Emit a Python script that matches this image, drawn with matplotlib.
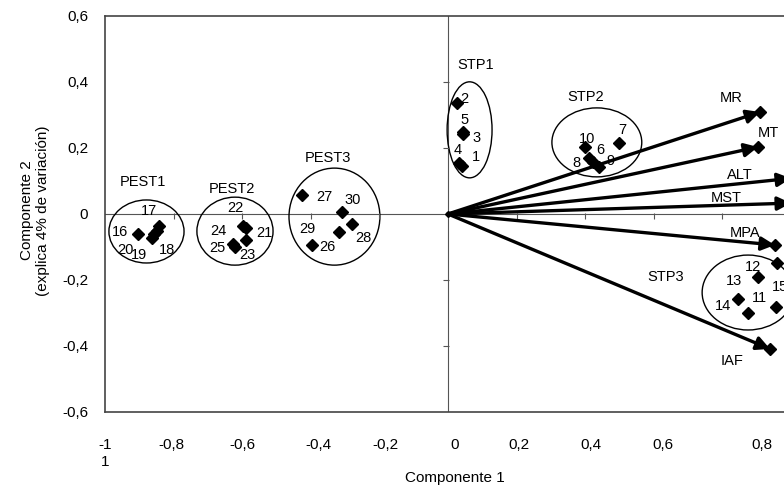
import numpy as np
import matplotlib
matplotlib.use('Agg')
import matplotlib.pyplot as plt
from matplotlib.patches import Ellipse

plt.rcParams['font.family'] = ['Liberation Sans', 'DejaVu Sans']

# puntos (muestras)
ids = [16, 17, 18, 19, 20, 21, 22, 23, 24, 25, 26, 27, 28, 29, 30,
       1, 2, 3, 4, 5, 6, 7, 8, 9, 10, 11, 12, 13, 14, 15]
comp1 = [-0.905, -0.843, -0.848, -0.863, -0.857,
         -0.589, -0.598, -0.589, -0.627, -0.621,
         -0.318, -0.426, -0.280, -0.397, -0.309,
         0.041, 0.025, 0.045, 0.032, 0.043,
         0.424, 0.498, 0.412, 0.441, 0.399,
         0.874, 0.905, 0.958, 0.846, 0.955]
comp2 = [-0.061, -0.036, -0.052, -0.073, -0.061,
         -0.042, -0.036, -0.079, -0.091, -0.100,
         -0.055, 0.058, -0.030, -0.094, 0.006,
         0.145, 0.337, 0.242, 0.155, 0.249,
         0.158, 0.216, 0.169, 0.142, 0.204,
         -0.301, -0.190, -0.149, -0.258, -0.281]

# variables (vectores)
var_names = ['MR', 'MT', 'ALT', 'MST', 'MPA', 'IAF']
var_c1 = [0.910, 0.904, 1.0, 1.0, 0.953, 0.939]
var_c2 = [0.309, 0.203, 0.108, 0.033, -0.094, -0.409]

# grupos
groups = ['PEST1', 'PEST2', 'PEST3', 'STP1', 'STP2', 'STP3']
grp_c1 = [-0.879, -0.621, -0.331, 0.063, 0.434, 0.875]
grp_c2 = [-0.053, -0.052, -0.008, 0.255, 0.217, -0.238]
grp_w = [0.219, 0.222, 0.265, 0.131, 0.262, 0.268]
grp_h = [0.191, 0.206, 0.294, 0.291, 0.209, 0.227]

# etiquetas de los ejes
yticks = [-0.6, -0.4, -0.2, 0, 0.2, 0.4, 0.6]
ytick_labels = ['-0,6', '-0,4', '-0,2', '0', '0,2', '0,4', '0,6']
xtick_pos = [-1.0, -0.805, -0.598, -0.379, -0.181, 0.020, 0.207, 0.417, 0.627, 0.915]
xtick_labels = ['-1\n1', '-0,8', '-0,6', '-0,4', '-0,2', '0', '0,2', '0,4', '0,6', '0,8']
zero_ticks_x = [-0.8, -0.6, -0.4, -0.2, 0.2, 0.4, 0.6, 0.8]
zero_ticks_y = [-0.4, -0.2, 0.2, 0.4]

# desplazamiento de las etiquetas (pixeles)
lbl_off = [(-18, 2), (-10, 15), (10, -19), (-13, -17), (-29, -16),
           (18, -5), (-7, 18), (1, -15), (-15, 13), (-18, -1),
           (-12, -15), (23, -2), (11, -14), (-4, 16), (11, 12),
           (14, 9), (8, 4), (13, -4), (-1, 13), (2, 12),
           (7, 12), (4, 13), (-13, -5), (11, 6), (2, 8),
           (12, 15), (-5, 10), (-43, -18), (-15, -7), (4, 20)]
var_lbl_pos = [(0.827, 0.351), (0.933, 0.245), (0.851, 0.118),
               (0.812, 0.048), (0.866, -0.058), (0.828, -0.445)]
grp_lbl_pos = [(-0.889, 0.097), (-0.630, 0.076), (-0.350, 0.170),
               (0.081, 0.452), (0.401, 0.355), (0.635, -0.190)]

fig = plt.figure(figsize=(7.84, 4.95), dpi=100)
ax = fig.add_axes([0.1339, 0.1677, 0.875, 0.8])
ax.set_xlim(-1, 1)
ax.set_ylim(-0.6, 0.6)

for s in ax.spines.values():
    s.set_color('#444444')
    s.set_linewidth(1.2)

ax.set_yticks(yticks)
ax.set_yticklabels(ytick_labels)
ax.set_xticks(xtick_pos)
ax.set_xticklabels(xtick_labels)
ax.tick_params(axis='y', length=0, pad=12, labelsize=11)
ax.tick_params(axis='x', length=0, pad=19, labelsize=11)

# ejes en cero
ax.axhline(0, color='#555555', lw=0.8, zorder=1)
ax.axvline(0, color='#555555', lw=0.8, zorder=1)
ax.plot(zero_ticks_x, np.zeros(len(zero_ticks_x)) - 0.006, ls='none', marker='|',
        ms=4, mew=0.8, color='#555555')
ax.plot(np.zeros(len(zero_ticks_y)) - 0.007, zero_ticks_y, ls='none', marker='_',
        ms=5, mew=0.8, color='#555555')

# elipses de grupos
for g, cx, cy, w, h, (lx, ly) in zip(groups, grp_c1, grp_c2, grp_w, grp_h, grp_lbl_pos):
    ax.add_patch(Ellipse((cx, cy), w, h, fill=False, ec='black', lw=1))
    ax.text(lx, ly, g, ha='center', va='center', fontsize=10.5)

# vectores
for n, vx, vy, (lx, ly) in zip(var_names, var_c1, var_c2, var_lbl_pos):
    ax.annotate('', xy=(vx, vy), xytext=(0, 0),
                arrowprops=dict(arrowstyle='-|>,head_length=0.8,head_width=0.4',
                                lw=2.4, color='black', shrinkA=0, shrinkB=0))
    ax.plot(vx, vy, marker='D', ms=6.5, color='black')
    ax.text(lx, ly, n, ha='center', va='center', fontsize=10.5)
ax.plot(0, 0, marker='D', ms=3, color='black')

# muestras
ax.plot(comp1, comp2, ls='none', marker='D', ms=6.5, color='black')
for i, x, y, (dx, dy) in zip(ids, comp1, comp2, lbl_off):
    ax.annotate(str(i), (x, y), xytext=(dx, dy), textcoords='offset pixels',
                ha='center', va='center', fontsize=10.5)

fig.text(0.045, 0.575, 'Componente 2\n(explica 4% de variación)', rotation=90,
         ha='center', va='center', fontsize=11)
fig.text(0.580, 0.034, 'Componente 1', ha='center', va='center', fontsize=11)

fig.savefig('out.png', dpi=100)
